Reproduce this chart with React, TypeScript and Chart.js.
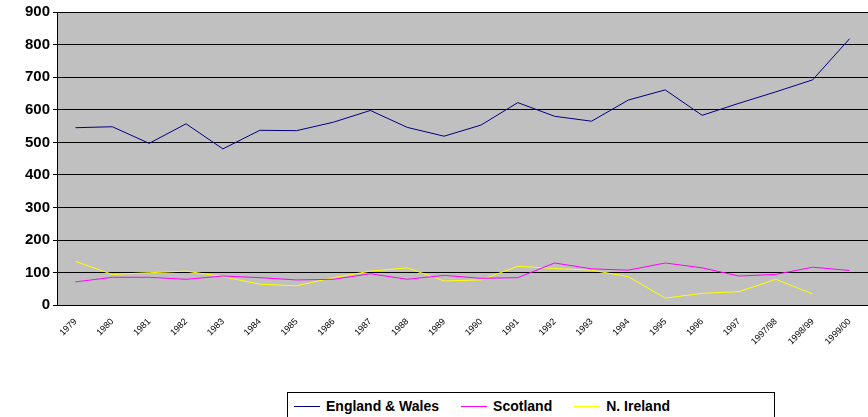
import React, { useEffect, useRef } from "react";
import { Chart, registerables } from "chart.js";

Chart.register(...registerables);

const years = [
  "1979", "1980", "1981", "1982", "1983", "1984", "1985", "1986", "1987", "1988", "1989",
  "1990", "1991", "1992", "1993", "1994", "1995", "1996", "1997", "1997/98", "1998/99", "1999/00",
];
const englandWales = [545, 548, 497, 557, 480, 537, 536, 562, 598, 546, 519, 553, 622, 580, 565, 630, 661, 583, 620, 655, 692, 818];
const scotland = [72, 86, 86, 80, 90, 85, 78, 80, 97, 80, 92, 83, 85, 130, 112, 108, 130, 115, 90, 95, 117, 107];
const nIreland = [135, 95, 100, 105, 88, 65, 60, 85, 105, 115, 75, 78, 120, 113, 108, 88, 22, 37, 42, 80, 35, null];

const bgPlugin = {
  id: "plotBg",
  beforeDraw(chart: any) {
    const { ctx, chartArea } = chart;
    ctx.save();
    ctx.fillStyle = "#c0c0c0";
    ctx.fillRect(chartArea.left, chartArea.top, chartArea.right - chartArea.left, chartArea.bottom - chartArea.top);
    ctx.restore();
  },
};

const App = () => {
  const chartRef = useRef<HTMLCanvasElement | null>(null);

  useEffect(() => {
    if (!chartRef.current) return;
    const font = { family: "Liberation Sans, Arial", size: 15, weight: "bold" as const };
    const chart = new Chart(chartRef.current, {
      type: "line",
      data: {
        labels: years,
        datasets: [
          { label: "England & Wales", data: englandWales, borderColor: "#000080", borderWidth: 1, pointRadius: 0 },
          { label: "Scotland", data: scotland, borderColor: "#ff00ff", borderWidth: 1, pointRadius: 0 },
          { label: "N. Ireland", data: nIreland, borderColor: "#ffff00", borderWidth: 1, pointRadius: 0 },
        ],
      },
      options: {
        animation: false,
        responsive: false,
        layout: { padding: { top: 3, left: 22, right: 0 } },
        plugins: { legend: { display: false }, tooltip: { enabled: false } },
        scales: {
          x: {
            offset: true,
            grid: { display: false },
            border: { color: "#000" },
            ticks: { color: "#000", font: { family: "Liberation Sans, Arial", size: 9 }, maxRotation: 45, minRotation: 45, autoSkip: false },
          },
          y: {
            min: 0,
            max: 900,
            grid: { color: "#000", drawTicks: true, tickLength: 4 },
            border: { color: "#000" },
            ticks: { stepSize: 100, color: "#000", font },
          },
        },
      },
      plugins: [bgPlugin],
    });
    return () => chart.destroy();
  }, []);

  return (
    <div style={{ position: "absolute", left: 0, top: 0, width: 868, height: 417, background: "#fff" }}>
      <canvas ref={chartRef} width={868} height={350} style={{ display: "block" }}></canvas>
      <div
        style={{
          position: "absolute", left: 287, top: 392, width: 488, height: 28, border: "1px solid #000",
          boxSizing: "border-box", display: "flex", alignItems: "center", fontFamily: "Liberation Sans, Arial",
          fontWeight: "bold", fontSize: 14, color: "#000",
        }}
      >
        {[["England & Wales", "#000080", 6], ["Scotland", "#ff00ff", 22], ["N. Ireland", "#ffff00", 22]].map(([t, c, m]) => (
          <div key={t as string} style={{ display: "flex", alignItems: "center", marginLeft: m as number }}>
            <span style={{ display: "inline-block", width: 26, borderTop: `1px solid ${c}`, marginRight: 6 }}></span>
            {t}
          </div>
        ))}
      </div>
    </div>
  );
};

export default App;
